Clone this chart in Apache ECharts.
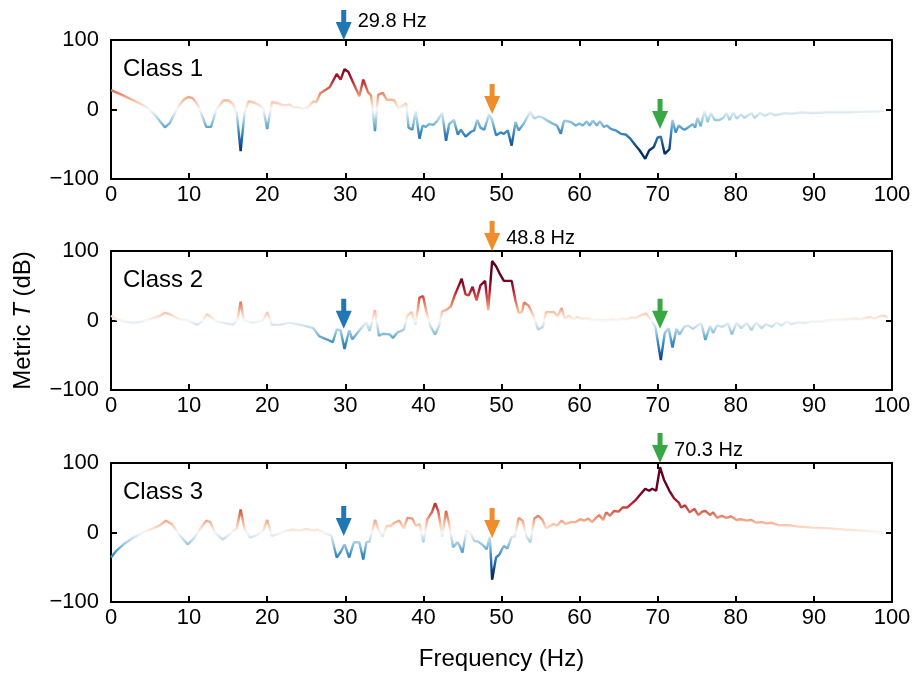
<!DOCTYPE html>
<html>
<head>
<meta charset="utf-8">
<title>Metric T per class</title>
<script src="https://cdn.jsdelivr.net/npm/echarts@6/dist/echarts.min.js"></script>
<style>
	html, body { margin: 0; padding: 0; background: #fff; }
	#chart { width: 914px; height: 675px; }
</style>
</head>
<body>
<div id="chart"></div>
<script>
var classNames = ['Class 1', 'Class 2', 'Class 3'];
var xTicks = [0, 10, 20, 30, 40, 50, 60, 70, 80, 90, 100];
var yTicks = [-100, 0, 100];

// peak frequencies marked by the arrows (blue, orange, green)
var arrowFreqs = [29.8, 48.8, 70.3];
var arrowColors = ['#1f77b4', '#ef8d2a', '#37a843'];
// where each arrow tip sits, per class (100 = on the top axis, labelled)
var arrowTips = [
	[100, -6.5, -28],
	[-12, 100, -12],
	[-5, -8, 100]
];

var class1Freq = [0, 1.4, 2.9, 4.3, 5.5, 6.9, 7.5, 8.5, 9.3, 9.9, 10.5, 11.2, 12.2, 12.8, 13.5, 14.4, 15, 15.6, 16.1, 16.6,
	17.1, 17.6, 18.2, 19, 19.5, 20, 20.6, 21.3, 22, 22.9, 23.3, 24, 24.6, 25.2, 25.9, 26.3, 26.8, 28, 28.9, 29.4,
	29.9, 30.4, 31, 31.8, 32.3, 32.9, 33.3, 33.8, 34.2, 34.8, 35.3, 35.9, 36.3, 36.8, 37.3, 37.8, 38.1, 38.6, 39, 39.5,
	39.9, 40.3, 40.7, 41.3, 41.8, 42.4, 42.9, 43.3, 43.9, 44.4, 44.8, 45.4, 46.1, 46.5, 46.9, 47.3, 47.8, 48.4, 48.8, 49.3,
	49.9, 50.3, 50.8, 51.3, 51.8, 52.2, 52.8, 53.3, 53.7, 54.2, 54.7, 55.2, 55.9, 56.5, 57.1, 57.6, 58, 58.9, 59.5, 60,
	60.4, 60.9, 61.3, 61.7, 62.2, 62.6, 63.1, 63.5, 64, 64.6, 65.3, 65.9, 66.5, 67.2, 67.7, 68.4, 68.9, 69.5, 70, 70.4,
	70.9, 71.5, 71.9, 72.3, 72.7, 73.2, 73.5, 74.1, 74.5, 74.8, 75.1, 75.5, 76, 76.4, 76.8, 77.3, 77.9, 78.4, 78.8, 79.2,
	79.7, 80.1, 80.7, 81.1, 82, 82.4, 83.1, 83.7, 84.4, 85, 86.3, 87.2, 88.4, 89.7, 91.8, 93.9, 96.1, 98.2, 99.1];
var class1Val = [28, 21, 13, 5, -6, -25.5, -20, 2, 14, 18, 16, 5, -25, -25, 0, 13, 13, 8, -5, -60,
	-5, 11.5, 10.5, 6, 1, -28, 10.5, 9, 6, 7, 3, 3, 0.5, 3, 11.5, 10.5, 23.5, 32, 51, 43,
	58, 54, 39, 19, 43, 25, 20, -31, 21, 24, 14, 14, 13, 1, 5, 9, -26, -29, -2, -42,
	-23, -25, -21, -22, -16, -5, -45, -21, -15, -36, -29, -39, -32, -30, -15, -26, -29, -7, -15, -37,
	-33, -35, -30, -52, -18, -30, -21, -11, -3, -13, -10, -11, -16, -20, -23, -35, -16, -18, -23, -20,
	-23, -17, -23, -16, -23, -17, -25, -23, -28, -30, -35, -36, -42, -52, -59, -71, -59, -54, -40, -39,
	-64, -57, -15, -33, -23, -28, -29, -24, -21, -26, -12, -24, -2, -18, -5, -15, -15, -12, -5, -15,
	-4, -13, -7, -12, -5, -12, -5, -9, -5, -8, -5, -6, -4, -5, -4, -4, -3, -2.5, -1.5];

var class2Freq = [0, 0.7, 1.6, 2.9, 4.1, 5.4, 6.3, 6.9, 7.5, 8.8, 9.8, 11, 11.6, 12.3, 12.9, 13.5, 14.4, 15.6, 16.2, 16.6,
	17, 18.2, 19.5, 20, 20.6, 21.6, 22.9, 24.2, 25, 25.9, 26.7, 27.6, 28.4, 28.9, 29.4, 29.9, 30.5, 30.9, 31.9, 32.7,
	33.1, 33.8, 34.3, 34.8, 35.7, 36.1, 36.7, 37.5, 37.95, 38.5, 39, 39.5, 39.96, 40.4, 40.9, 41.5, 42, 42.4, 42.9, 43.5,
	44.05, 44.6, 44.9, 45.4, 45.8, 46.3, 46.8, 47.3, 47.9, 48.3, 48.8, 49.3, 49.7, 50.3, 51.3, 51.8, 52.2, 52.6, 52.9, 53.5,
	54, 54.7, 55.3, 55.7, 56.7, 57.2, 57.7, 58.1, 58.6, 59.2, 59.7, 60.3, 61, 61.6, 62.4, 63.3, 64.1, 65, 65.4, 66.1,
	66.5, 67.1, 67.8, 68.5, 69.1, 69.7, 70.4, 70.9, 71.4, 71.9, 72.4, 72.8, 73.4, 73.9, 74.5, 75.1, 75.6, 76.1, 76.7, 77.1,
	77.6, 78.3, 79, 79.5, 80.1, 80.7, 81.4, 82, 82.6, 83.3, 83.9, 84.6, 85.2, 85.9, 86.5, 87.1, 88, 88.9, 89.7, 91,
	92.3, 94, 95.3, 95.9, 97.2, 97.8, 98.5, 99, 99.5];
var class2Val = [7, 1.5, -1, -3, -1, 3, 7, 11, 9, 1.5, 0.5, -6, -2, 9, 4, -1, -3, -6, 1.5, 27,
	0.5, -3, 0.5, 12, -6, -6, -3, -6, -8, -11, -23, -27, -31, -13, -14, -41, -14, -27, -13, -2.5,
	-15, 15, -22, -19, -20, -25, -17, -13, 7, 12, -6, 33, 35, 12, -8, -20, -8, 13, 15, 20,
	37.5, 52, 60, 37.5, 36, 48.5, 29, 50.5, 57, 15, 85.5, 78, 69, 57, 57, 28, 11, 12, 26, 21,
	9, -13, -9, 12, 12, 6, 18, 2.5, 7, 1.5, 5, 2.5, 3, 0.5, 1, 0, 2, 0.5, 2.5, 1.5,
	4, 3.5, 7, 10, 1.5, -9, -57, -18, -11, -39, -12, -20, -9, -7, -12, -7, -4, -28, -8, -18,
	-7, -9, -4, -20, -3, -11, -3, -14, -2.5, -11, -5, -9, -3, -7, -1, -5, -2.5, -3.5, -1, -1,
	0.5, 1.5, 2.5, 1.5, 5, 2.5, 6, 7, 4];

var class3Freq = [0, 0.7, 1.6, 2.9, 4.1, 5.4, 6.3, 7, 7.8, 8.8, 9.8, 10.5, 11.4, 12.2, 12.7, 13.3, 14.3, 15, 16.1, 16.6,
	17.1, 17.8, 18.6, 19.5, 20, 20.6, 21.6, 22.5, 23.3, 24.2, 25, 25.9, 26.5, 27.2, 28.2, 28.9, 29.4, 29.9, 30.5, 31.1,
	31.8, 32.3, 32.7, 33.1, 33.8, 34.2, 34.8, 35.3, 35.8, 36.3, 36.9, 37.5, 37.95, 38.6, 39, 39.5, 40, 40.5, 41.1, 41.5,
	41.9, 42.4, 42.9, 43.3, 43.8, 44.35, 44.65, 45, 45.5, 46.1, 46.5, 47, 47.6, 48.1, 48.5, 48.8, 49.3, 49.7, 50.3, 50.75,
	51.3, 51.7, 52.2, 52.7, 53.2, 53.7, 54.2, 54.7, 55.2, 55.7, 56.1, 56.7, 57.1, 57.7, 58.2, 58.9, 59.5, 60.1, 60.6, 61.1,
	61.6, 62.1, 62.5, 63, 63.4, 63.9, 64.4, 65, 65.5, 66.1, 66.7, 67.2, 67.8, 68.4, 68.9, 69.3, 69.8, 70.3, 70.8, 71.5,
	72.1, 72.7, 73, 73.5, 74.1, 74.7, 75.2, 75.7, 76.1, 76.7, 77.1, 77.6, 78.2, 78.8, 79.4, 80.1, 80.7, 81.4, 82, 82.6,
	83.3, 83.9, 84.6, 85.4, 86.7, 88, 89.7, 91.8, 94, 96.1, 97.8, 99.1];
var class3Val = [-36, -26, -17, -7, 0, 6, 10.5, 17, 12, -4, -17, -10, 5, 17, 15, 0, -10, -4, 6, 33,
	5, -7, -4, 2.5, 18, -5, -1, 2.5, 4, 2.5, 5, 2.5, 4, 0, -4, -36, -28, -17, -36, -14,
	-14, -39, -14, -13, 18, 5, -6, 9.5, 9, 14, 17, 6, 21, 20, 9.5, 12, -14, 19, 29.5, 42,
	31, -6, 31, 12, -21, -14, -19, -29, 2.5, -2, -12, -13, -18, -24, -6, -68, -36, -32, -19, -23,
	-6, -6, 21, 17, -6, -14, 20, 24, 19, 6, 8.5, 12, 10, 17, 12, 15, 15, 19, 17, 20,
	15, 21, 25, 18, 29, 24, 31, 30, 36, 36, 42, 47, 55, 63, 60, 63, 60, 94, 76, 60,
	49, 43, 36, 39, 29, 34, 25, 30, 31, 25, 29, 21, 24, 21, 23, 18, 19, 17, 18, 14,
	15, 13, 14, 10.5, 10.5, 8.5, 7, 6, 4, 2.5, 1, -1];

var classFreqs = [class1Freq, class2Freq, class3Freq];
var classVals = [class1Val, class2Val, class3Val];

var rdbu = ['#053061', '#2166ac', '#4393c3', '#92c5de', '#d1e5f0', '#f7f7f7',
	'#fddbc7', '#f4a582', '#d6604d', '#b2182b', '#67001f'];
var colorLimit = 60;
var font = '"Liberation Sans", Arial, Helvetica, sans-serif';
var arrowPath = 'path://M5.5,0 L10.5,0 L10.5,12 L16,12 L8,30 L0,12 L5.5,12 Z';
var gridTops = [40, 251, 463];
var gridHeight = 139;
var topLabelShift = [-4, 2, 2];

function zip(f, v) {
	var out = [];
	for (var i = 0; i < f.length; i++) {
		out.push([f[i], v[i]]);
	}
	return out;
}

function minusSign(v) {
	return String(v).replace('-', '\u2212');
}

function hexToRgb(h) {
	return [parseInt(h.substr(1, 2), 16), parseInt(h.substr(3, 2), 16), parseInt(h.substr(5, 2), 16)];
}

// sample RdBu at t in [0, 1]
function rdbuAt(t) {
	var p = t * (rdbu.length - 1);
	var k = Math.min(Math.floor(p), rdbu.length - 2);
	var f = p - k;
	var a = hexToRgb(rdbu[k]), b = hexToRgb(rdbu[k + 1]);
	var c = [];
	for (var j = 0; j < 3; j++) {
		c.push(Math.round(a[j] + (b[j] - a[j]) * f));
	}
	return 'rgb(' + c.join(',') + ')';
}

// a bit steeper near zero than a plain linear map
function buildColorStops() {
	var stops = [];
	for (var v = -colorLimit; v <= colorLimit; v += 5) {
		var s = v < 0 ? -1 : 1;
		var t = 0.5 + 0.5 * s * Math.pow(Math.abs(v) / colorLimit, 0.75);
		stops.push(rdbuAt(t));
	}
	return stops;
}

function buildXAxis(i, pos) {
	var ax = {
		gridIndex: i,
		type: 'value',
		position: pos,
		min: xTicks[0],
		max: xTicks[xTicks.length - 1],
		interval: xTicks[1] - xTicks[0],
		axisLine: {show: true, onZero: false, lineStyle: {color: '#000', width: 2}},
		axisTick: {show: true, inside: true, length: 6, lineStyle: {color: '#000', width: 2}},
		axisLabel: {show: pos == 'bottom', fontSize: 22, color: '#000', fontFamily: font, margin: 5},
		splitLine: {show: false}
	};
	if (i == 2 && pos == 'bottom') {
		ax.name = 'Frequency (Hz)';
		ax.nameLocation = 'middle';
		ax.nameGap = 45;
		ax.nameTextStyle = {fontSize: 24, color: '#000', fontFamily: font};
	}
	return ax;
}

function buildYAxis(i, pos) {
	var ax = {
		gridIndex: i,
		type: 'value',
		position: pos,
		min: yTicks[0],
		max: yTicks[yTicks.length - 1],
		interval: yTicks[1] - yTicks[0],
		axisLine: {show: true, onZero: false, lineStyle: {color: '#000', width: 2}},
		axisTick: {show: true, inside: true, length: 6, lineStyle: {color: '#000', width: 2}},
		axisLabel: {show: pos == 'left', fontSize: 22, color: '#000', fontFamily: font, margin: 12, formatter: minusSign},
		splitLine: {show: false}
	};
	if (i == 1 && pos == 'left') {
		ax.name = 'Metric {i|T} (dB)';
		ax.nameLocation = 'middle';
		ax.nameGap = 76;
		ax.nameTextStyle = {
			fontSize: 24, color: '#000', fontFamily: font,
			rich: {i: {fontSize: 24, color: '#000', fontFamily: font, fontStyle: 'italic'}}
		};
	}
	return ax;
}

function buildMarkPoints(i) {
	var pts = [];
	for (var k = 0; k < arrowFreqs.length; k++) {
		var onTop = arrowTips[i][k] == 100;
		pts.push({
			coord: [arrowFreqs[k], arrowTips[i][k]],
			itemStyle: {color: arrowColors[k]},
			label: {
				show: onTop,
				position: 'right',
				distance: 6,
				offset: [0, topLabelShift[i]],
				formatter: arrowFreqs[k].toFixed(1) + ' Hz',
				fontSize: 20,
				color: '#000',
				fontFamily: font
			}
		});
	}
	return {
		symbol: arrowPath,
		symbolSize: [16, 30],
		symbolOffset: [0, '-50%'],
		silent: true,
		data: pts
	};
}

function drawChart(showAreaId) {
	var myChart = echarts.init(document.getElementById(showAreaId));
	var colorStops = buildColorStops();
	var grids = [], xAxes = [], yAxes = [], visualMaps = [], series = [], titles = [];
	for (var i = 0; i < 3; i++) {
		grids.push({left: 111, right: 22, top: gridTops[i], height: gridHeight});
		xAxes.push(buildXAxis(i, 'bottom'));
		xAxes.push(buildXAxis(i, 'top'));
		yAxes.push(buildYAxis(i, 'left'));
		yAxes.push(buildYAxis(i, 'right'));
		titles.push({
			text: classNames[i],
			left: 118,
			top: gridTops[i] + 12,
			textStyle: {fontSize: 24, fontWeight: 'normal', color: '#000', fontFamily: font}
		});
		visualMaps.push({
			type: 'continuous',
			show: false,
			seriesIndex: i,
			dimension: 1,
			min: -colorLimit,
			max: colorLimit,
			inRange: {color: colorStops}
		});
		series.push({
			name: classNames[i],
			type: 'line',
			xAxisIndex: 2 * i,
			yAxisIndex: 2 * i,
			data: zip(classFreqs[i], classVals[i]),
			symbol: 'none',
			lineStyle: {width: 2.4},
			markPoint: buildMarkPoints(i)
		});
	}
	var option = {
		animation: false,
		backgroundColor: '#fff',
		title: titles,
		grid: grids,
		xAxis: xAxes,
		yAxis: yAxes,
		visualMap: visualMaps,
		series: series
	};
	myChart.setOption(option);
}

drawChart('chart');
</script>
</body>
</html>
